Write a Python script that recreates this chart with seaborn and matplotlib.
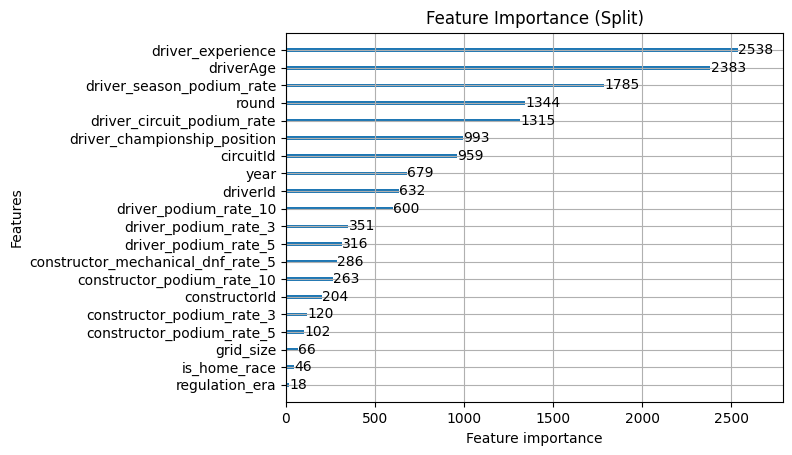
import matplotlib
matplotlib.use("Agg")
import matplotlib.pyplot as plt
import seaborn as sns
import pandas as pd

# split importance values
features = [
    "driver_experience", "driverAge", "driver_season_podium_rate", "round",
    "driver_circuit_podium_rate", "driver_championship_position", "circuitId",
    "year", "driverId", "driver_podium_rate_10", "driver_podium_rate_3",
    "driver_podium_rate_5", "constructor_mechanical_dnf_rate_5",
    "constructor_podium_rate_10", "constructorId", "constructor_podium_rate_3",
    "constructor_podium_rate_5", "grid_size", "is_home_race", "regulation_era",
]
importance = [2538, 2383, 1785, 1344, 1315, 993, 959, 679, 632, 600,
              351, 316, 286, 263, 204, 120, 102, 66, 46, 18]

df = pd.DataFrame({"feature": features, "importance": importance})

fig, ax = plt.subplots(figsize=(7.92, 4.55), dpi=100)
sns.barplot(data=df, x="importance", y="feature", order=features,
            color="#1f77b4", saturation=1, width=0.2, orient="h", ax=ax)

for i, v in enumerate(importance):
    ax.text(v + 1, i, str(v), va="center", fontsize=10)

ax.set_xlim(0, max(importance) * 1.1)
ax.set_ylim(len(features), -1)
ax.grid(True)
ax.set_title("Feature Importance (Split)")
ax.set_xlabel("Feature importance")
ax.set_ylabel("Features")

plt.subplots_adjust(left=0.361, right=0.989, top=0.9285, bottom=0.1155)
plt.savefig("out.png", dpi=100)
plt.close()
